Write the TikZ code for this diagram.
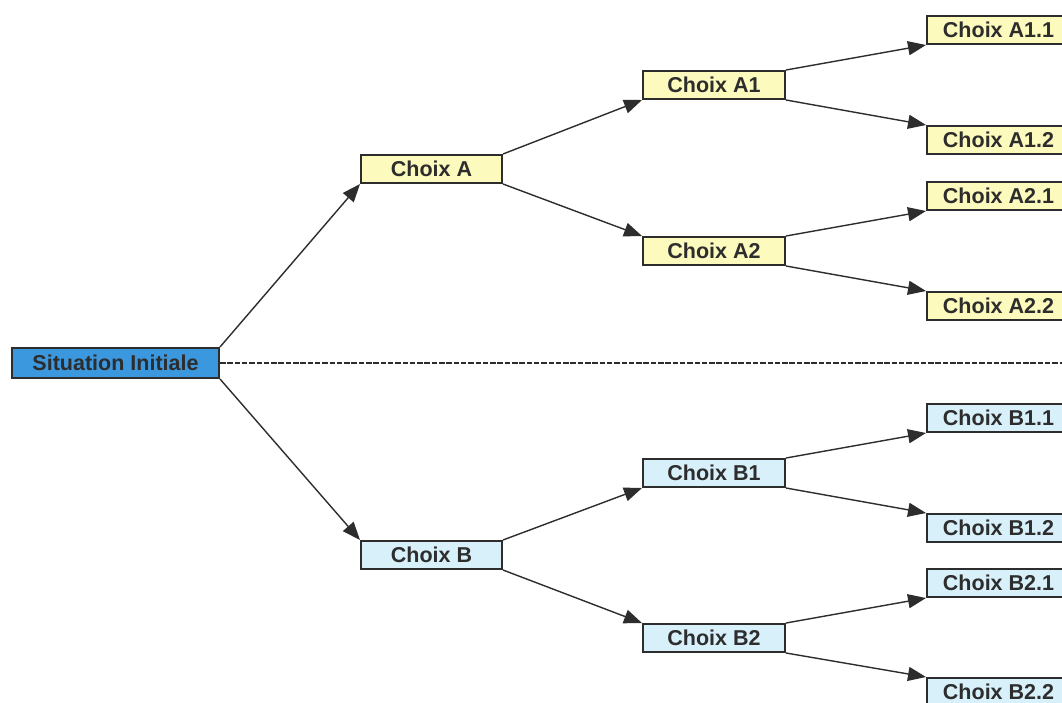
\documentclass[tikz,border=0pt]{standalone}
\usepackage{fontspec}
\setmainfont{Liberation Sans}
\usetikzlibrary{arrows.meta}
\definecolor{siblue}{RGB}{60,152,222}
\definecolor{ayellow}{RGB}{253,250,190}
\definecolor{bblue}{RGB}{216,240,250}
\definecolor{ink}{RGB}{45,45,45}
\begin{document}
\begin{tikzpicture}[x=1pt,y=-1pt,
  box/.style={draw=ink,line width=2pt,inner sep=0pt,minimum height=28pt,minimum width=142pt,
    font=\fontsize{21.5}{23}\selectfont\bfseries,text=ink},
  abox/.style={box,fill=ayellow},
  bbox/.style={box,fill=bblue},
  conn/.style={draw=ink,line width=1.4pt,-{Triangle[length=18pt,width=14pt]}}]
\clip (0,0) rectangle (1062,702);
\fill[white] (0,0) rectangle (1062,702);
\node[box,fill=siblue,minimum width=207pt,minimum height=30pt] (si) at (115.5,363) {Situation Initiale};
\node[abox,minimum width=141pt] (a) at (431.5,169) {Choix A};
\node[bbox,minimum width=141pt] (b) at (431.5,555) {Choix B};
\node[abox] (a1) at (714,85) {Choix A1};
\node[abox] (a2) at (714,251) {Choix A2};
\node[bbox] (b1) at (714,473) {Choix B1};
\node[bbox] (b2) at (714,638) {Choix B2};
\node[abox,minimum width=143pt] (a11) at (998.5,30) {Choix A1.1};
\node[abox,minimum width=143pt] (a12) at (998.5,140) {Choix A1.2};
\node[abox,minimum width=143pt] (a21) at (998.5,196) {Choix A2.1};
\node[abox,minimum width=143pt] (a22) at (998.5,306) {Choix A2.2};
\node[bbox,minimum width=143pt] (b11) at (998.5,418) {Choix B1.1};
\node[bbox,minimum width=143pt] (b12) at (998.5,528) {Choix B1.2};
\node[bbox,minimum width=143pt] (b21) at (998.5,583) {Choix B2.1};
\node[bbox,minimum width=143pt] (b22) at (998.5,692) {Choix B2.2};
\coordinate (dashend) at (1062,363);
\draw[ink,line width=1.3pt,dash pattern=on 5.5pt off 1.8pt] (si.east) -- (dashend);
\foreach \p/\c in {si/a,a/a1,a1/a11,a2/a21,b/b1,b1/b11,b2/b21}
  \draw[conn] (\p.north east) -- (\c.south west);
\foreach \p/\c in {si/b,a/a2,a1/a12,a2/a22,b/b2,b1/b12,b2/b22}
  \draw[conn] (\p.south east) -- (\c.north west);
\end{tikzpicture}
\end{document}
